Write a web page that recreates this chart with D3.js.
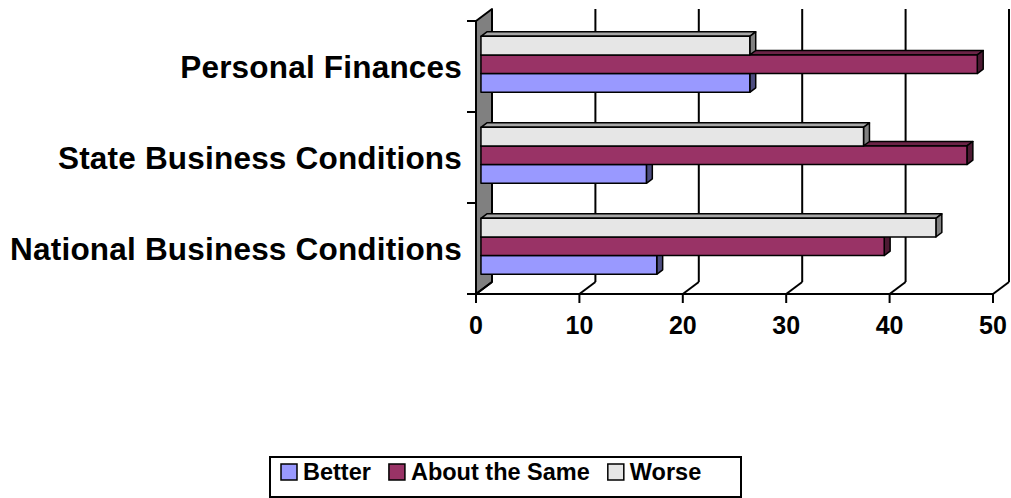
<!DOCTYPE html>
<html>
<head>
<meta charset="utf-8">
<title>Business Conditions</title>
<script src="https://cdn.jsdelivr.net/npm/d3@7"></script>
<style>
  body { margin: 0; background: #fff; }
  text { font-family: "Liberation Sans", Arial, sans-serif; font-weight: bold; fill: #000; }
  .cat { font-size: 31.5px; letter-spacing: 0.2px; }
  .tick { font-size: 25px; }
  .leg { font-size: 23.5px; }
</style>
</head>
<body>
<svg width="1011" height="498"></svg>
<script>
// data
var categories = ["Personal Finances", "State Business Conditions", "National Business Conditions"];
var seriesNames = ["Better", "About the Same", "Worse"];
var better = [26, 16, 17];
var aboutSame = [48, 47, 39];
var worse = [26, 37, 44];
var xTicks = [0, 10, 20, 30, 40, 50];

var values = { "Better": better, "About the Same": aboutSame, "Worse": worse };
var front = { "Better": "#9999ff", "About the Same": "#993366", "Worse": "#e6e6e6" };
var top_ = { "Better": "#7373bf", "About the Same": "#6b2447", "Worse": "#a6a6a6" };
var side = { "Better": "#4d4d80", "About the Same": "#4d1a33", "Worse": "#808080" };

var svg = d3.select("svg");

// depth of the 3d box
var DX = 16, DY = -12;
function P(x, y, d) { return [x + DX * d, y + DY * d]; }
function poly(pts) { return "M" + pts.map(function(p) { return p.join(","); }).join("L") + "Z"; }

var x = d3.scaleLinear().domain([0, 50]).range([476, 993]);
var y = d3.scaleBand().domain(categories).range([21, 294]);
// Excel puts the last series on top in a bar chart
var inner = d3.scaleBand().domain(seriesNames.slice().reverse()).range([19, 75]);

var g = svg.append("g");

// side wall (gray slab on the left)
var yTop = y.range()[0], yBot = y.range()[1];
g.append("path")
  .attr("d", poly([P(x(0), yTop, 0), P(x(0), yTop, 1), P(x(0), yBot, 1), P(x(0), yBot, 0)]))
  .attr("fill", "#808080")
  .attr("stroke", "#000")
  .attr("stroke-width", 2)
  .attr("stroke-linejoin", "round");

// back gridlines
xTicks.slice(1).forEach(function(t) {
  var a = P(x(t), yTop, 1), b = P(x(t), yBot, 1);
  g.append("line").attr("x1", a[0]).attr("y1", a[1]).attr("x2", b[0]).attr("y2", b[1])
    .attr("stroke", "#000").attr("stroke-width", 2);
});

// floor: slanted lines and front axis
xTicks.forEach(function(t) {
  var a = P(x(t), yBot, 0), b = P(x(t), yBot, 1);
  g.append("line").attr("x1", a[0]).attr("y1", a[1]).attr("x2", b[0]).attr("y2", b[1])
    .attr("stroke", "#000").attr("stroke-width", 2);
  g.append("line").attr("x1", x(t)).attr("y1", yBot).attr("x2", x(t)).attr("y2", yBot + 9)
    .attr("stroke", "#000").attr("stroke-width", 2);
  g.append("text").attr("class", "tick")
    .attr("x", x(t)).attr("y", yBot + 40)
    .attr("text-anchor", "middle")
    .text(t);
});
g.append("line").attr("x1", x(0)).attr("y1", yBot).attr("x2", x(50)).attr("y2", yBot)
  .attr("stroke", "#000").attr("stroke-width", 2);

// category ticks on the wall
var catTicks = categories.map(function(c) { return y(c); }).concat([yBot]);
catTicks.forEach(function(t) {
  g.append("line").attr("x1", x(0) - 9).attr("y1", t).attr("x2", x(0)).attr("y2", t)
    .attr("stroke", "#000").attr("stroke-width", 2);
});

// category labels
categories.forEach(function(c) {
  g.append("text").attr("class", "cat")
    .attr("x", 462)
    .attr("y", y(c) + y.bandwidth() / 2 + 11)
    .attr("text-anchor", "end")
    .text(c);
});

// bars
var f1 = 0.31, f2 = 0.68;
var bars = g.append("g");
categories.forEach(function(c, i) {
  seriesNames.forEach(function(s) {
    var v = values[s][i];
    var x0 = x(0), x1 = x(v);
    var y0 = y(c) + inner(s), y1 = y0 + inner.bandwidth();
    var b = bars.append("g").attr("stroke", "#000").attr("stroke-width", 1.5).attr("stroke-linejoin", "round");
    b.append("path").attr("fill", top_[s])
      .attr("d", poly([P(x0, y0, f1), P(x1, y0, f1), P(x1, y0, f2), P(x0, y0, f2)]));
    b.append("path").attr("fill", side[s])
      .attr("d", poly([P(x1, y0, f1), P(x1, y1, f1), P(x1, y1, f2), P(x1, y0, f2)]));
    b.append("path").attr("fill", front[s])
      .attr("d", poly([P(x0, y0, f1), P(x1, y0, f1), P(x1, y1, f1), P(x0, y1, f1)]));
  });
});

// legend
var leg = svg.append("g");
leg.append("rect").attr("x", 270).attr("y", 457).attr("width", 471).attr("height", 40)
  .attr("fill", "#fff").attr("stroke", "#000").attr("stroke-width", 2);
var lx = 281;
seriesNames.forEach(function(s) {
  leg.append("rect").attr("x", lx).attr("y", 464).attr("width", 16).attr("height", 16)
    .attr("fill", front[s]).attr("stroke", "#000").attr("stroke-width", 1.5);
  var t = leg.append("text").attr("class", "leg").attr("x", lx + 22).attr("y", 480).text(s);
  lx += 22 + t.node().getComputedTextLength() + 18;
});
</script>
</body>
</html>
